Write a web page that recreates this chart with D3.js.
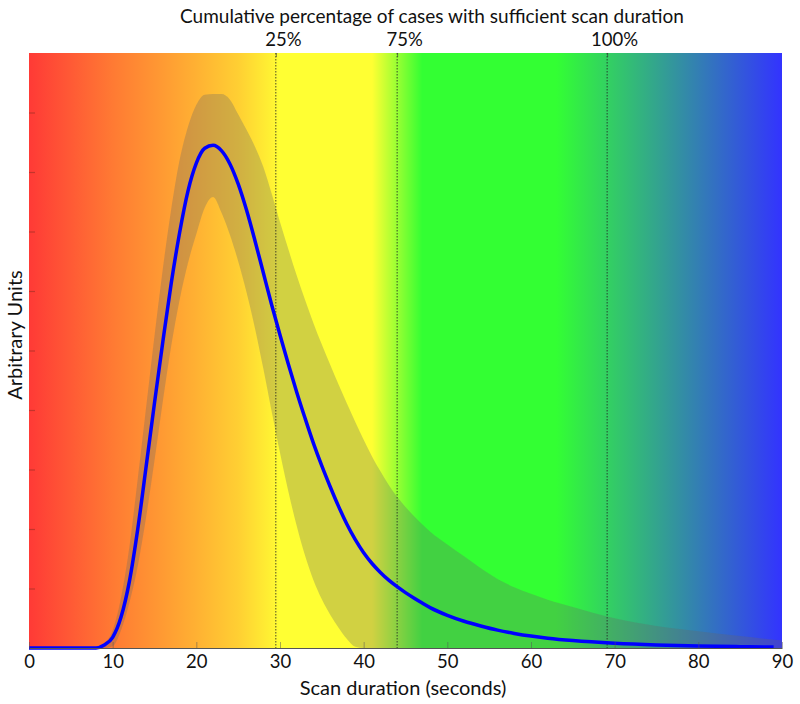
<!DOCTYPE html>
<html><head><meta charset="utf-8">
<script src="https://cdn.jsdelivr.net/npm/d3@7"></script>
<style>body{margin:0;background:#fff;} svg{display:block;} text{font-family:Lato, "Open Sans", sans-serif;fill:#111;}</style>
</head><body>
<svg id="chart" width="800" height="704"></svg>
<script>
// Scan duration grid (seconds)
const times = [0,2,4,6,7,8,9,10,11,12,13,14,15,16,17,18,19,20,21,22,23,24,25,26,27,28,29,30,31,32,33,34,35,36,37,38,39,40,41,42,43,44,45,46,47,48,50,52,54,56,58,60,62,65,70,75,80,85,89,90];
// Mean distribution (arbitrary units)
const meanCurve = [0,0,0,0,0,0,0.05,0.18,0.52,1.12,2.0,3.05,4.12,5.15,6.13,6.98,7.68,8.15,8.4,8.45,8.36,8.14,7.8,7.36,6.85,6.31,5.77,5.26,4.77,4.3,3.86,3.44,3.06,2.71,2.38,2.08,1.82,1.6,1.42,1.27,1.14,1.03,0.93,0.84,0.755,0.675,0.55,0.45,0.37,0.3,0.245,0.2,0.165,0.125,0.08,0.052,0.035,0.022,0.015,null];
// Upper and lower limits of the shaded band
const upperCurve = [0,0,0,0,0,0,0.08,0.3,0.85,1.7,2.85,4.05,5.25,6.38,7.38,8.2,8.76,9.13,9.3,9.31,9.31,9.22,8.97,8.71,8.43,8.09,7.64,7.16,6.7,6.26,5.85,5.46,5.1,4.76,4.43,4.11,3.8,3.5,3.22,2.97,2.74,2.54,2.37,2.22,2.08,1.95,1.74,1.54,1.34,1.16,1.02,0.91,0.81,0.69,0.5,0.37,0.28,0.2,0.14,0.13];
const lowerCurve = [0,0,0,0,0,0,0,0.03,0.3,0.76,1.38,2.2,3.15,4.15,5.08,5.85,6.47,6.96,7.4,7.58,7.32,6.95,6.5,5.98,5.38,4.7,3.98,3.28,2.63,2.05,1.55,1.14,0.82,0.56,0.34,0.15,0.02,0,0,0,0,0,0,0,0,0,0,0,0,0,0,0,0,0,0,0,0,0,0,0];
// Cumulative percentage markers
const markerTimes = [29.5, 44, 69.1];
const markerLabels = ["25%", "75%", "100%"];
// Axis ticks
const xTicks = [0,10,20,30,40,50,60,70,80,90];
const yTicks = [1,2,3,4,5,6,7,8,9];
// Background colour ramp
const bgStopTimes = [0,5,10,15,20,25,29,30,41,44,47,63,90];
const bgStopColors = ["#ff3a36","#ff5a35","#ff7a33","#ff9533","#ffb133","#ffcf33","#fff233","#ffff33","#ffff33","#99ff33","#33ff33","#33ff33","#3333ff"];

const svg = d3.select("#chart");
const m = {l:29, r:18, t:53, b:56};
const W = 800, H = 704;
const x = d3.scaleLinear().domain([0,90]).range([m.l, W - m.r]);
const y = d3.scaleLinear().domain([0,10]).range([H - m.b, m.t]);

const defs = svg.append("defs");
const grad = defs.append("linearGradient").attr("id","bg")
  .attr("gradientUnits","userSpaceOnUse")
  .attr("x1", x(0)).attr("x2", x(90)).attr("y1",0).attr("y2",0);
bgStopTimes.forEach((t,i)=>{
  grad.append("stop").attr("offset", (x(t)-x(0))/(x(90)-x(0))).attr("stop-color", bgStopColors[i]);
});
svg.append("rect").attr("x", x(0)).attr("y", y(10)).attr("width", x(90)-x(0)).attr("height", y(0)-y(10)).attr("fill","url(#bg)");

const rows = times.map((t,i)=>({t, m:meanCurve[i], u:upperCurve[i], lo:lowerCurve[i]}));

svg.append("path").datum(rows)
  .attr("d", d3.area().x(d=>x(d.t)).y0(d=>y(d.lo)).y1(d=>y(d.u)).curve(d3.curveMonotoneX))
  .attr("fill","#666666").attr("fill-opacity",0.3);

// marker lines
svg.append("g").selectAll("line").data(markerTimes).join("line")
  .attr("x1", d=>x(d)).attr("x2", d=>x(d)).attr("y1", y(10)).attr("y2", y(0))
  .attr("stroke","#222").attr("stroke-width",1).attr("stroke-dasharray","1.5,1.5").attr("opacity",0.8);

svg.append("path").datum(rows.filter(d=>d.m!==null))
  .attr("d", d3.line().x(d=>x(d.t)).y(d=>y(d.m)).curve(d3.curveMonotoneX))
  .attr("fill","none").attr("stroke","#0000ff").attr("stroke-width",3.5).attr("stroke-linejoin","round");

// axes
const gx = svg.append("g").attr("transform",`translate(0,${y(0)})`)
  .call(d3.axisBottom(x).tickValues(xTicks).tickSize(-6).tickPadding(7).tickSizeOuter(0));
gx.select(".domain").attr("stroke","#555");
gx.selectAll(".tick line").attr("stroke","#555").attr("opacity",0.5);
gx.selectAll("text").attr("font-size",18.5).attr("font-family","Lato, 'Open Sans', sans-serif").attr("fill","#111");

const gy = svg.append("g").attr("transform",`translate(${x(0)},0)`)
  .call(d3.axisLeft(y).tickValues(yTicks).tickSize(-6).tickFormat("").tickSizeOuter(0));
gy.select(".domain").remove();
gy.selectAll(".tick line").attr("stroke","#7a2a20").attr("stroke-width",1.2).attr("opacity",0.45);

const gt = svg.append("g").attr("transform",`translate(0,${y(10)})`)
  .call(d3.axisTop(x).tickValues(markerTimes).tickSize(-4).tickPadding(7).tickFormat((d,i)=>markerLabels[i]).tickSizeOuter(0));
gt.select(".domain").remove();
gt.selectAll(".tick line").attr("stroke","#333").attr("opacity",0.6);
gt.selectAll("text").attr("font-size",18.5).attr("dx",7).attr("font-family","Lato, 'Open Sans', sans-serif").attr("fill","#111");

svg.append("text").attr("x", 432).attr("y", 23).attr("text-anchor","middle").attr("font-size",19)
  .text("Cumulative percentage of cases with sufficient scan duration");
svg.append("text").attr("x", 403).attr("y", 695).attr("text-anchor","middle").attr("font-size",20)
  .text("Scan duration (seconds)");
svg.append("text").attr("transform","translate(22,335) rotate(-90)").attr("text-anchor","middle").attr("font-size",20)
  .text("Arbitrary Units");
</script>
</body></html>
